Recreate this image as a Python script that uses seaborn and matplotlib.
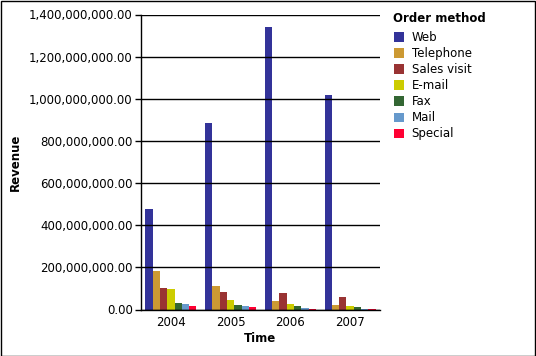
import matplotlib
matplotlib.use("Agg")
import matplotlib.pyplot as plt
import seaborn as sns
import pandas as pd
from matplotlib.ticker import FuncFormatter
from matplotlib.patches import Rectangle

years = ["2004", "2005", "2006", "2007"]
methods = ["Web", "Telephone", "Sales visit", "E-mail", "Fax", "Mail", "Special"]
web = [477e6, 885e6, 1341e6, 1018e6]
telephone = [182e6, 111e6, 39e6, 20e6]
sales_visit = [101e6, 82e6, 77e6, 58e6]
email = [96e6, 44e6, 25e6, 16e6]
fax = [30e6, 20e6, 16e6, 10e6]
mail = [25e6, 16e6, 6e6, 2e6]
special = [16e6, 11e6, 3e6, 2e6]
colors = ["#333399", "#CC9933", "#993333", "#CCCC00", "#336633", "#6699CC", "#FF0033"]
yticks = [0, 200e6, 400e6, 600e6, 800e6, 1000e6, 1200e6, 1400e6]

series = [web, telephone, sales_visit, email, fax, mail, special]
rows = []
for m, vals in zip(methods, series):
    for y, v in zip(years, vals):
        rows.append({"Time": y, "Order method": m, "Revenue": v})
df = pd.DataFrame(rows)

sns.set_style("white")
plt.rcParams["font.family"] = ["DejaVu Sans"]
plt.rcParams["text.color"] = "black"
plt.rcParams["axes.labelcolor"] = "black"
fs = 8.5

W, H = 536, 356
fig = plt.figure(figsize=(W / 100, H / 100), dpi=100)
ax = fig.add_axes([141 / W, 1 - 309.5 / H, (380 - 141) / W, (309.5 - 14.5) / H])

sns.barplot(data=df, x="Time", y="Revenue", hue="Order method", order=years,
            hue_order=methods, palette=colors, width=0.85, saturation=1,
            linewidth=0, ax=ax)

ax.set_ylim(0, 1.4e9)
ax.set_yticks(yticks)
ax.yaxis.set_major_formatter(FuncFormatter(lambda v, p: f"{v:,.2f}"))
ax.grid(axis="y", color="black", linewidth=1)
ax.set_axisbelow(False)
for s in ["top", "right"]:
    ax.spines[s].set_visible(False)
ax.spines["left"].set_color("black")
ax.spines["bottom"].set_color("black")
ax.spines["left"].set_linewidth(1)
ax.spines["bottom"].set_linewidth(1)
ax.tick_params(axis="y", which="major", left=True, length=4, width=1, color="black",
               labelsize=fs, pad=2, labelcolor="black")
ax.tick_params(axis="x", bottom=False, labelsize=fs, pad=1, labelcolor="black")
ax.set_xlabel("Time", fontsize=fs, fontweight="bold", labelpad=2, color="black")
ax.set_ylabel("Revenue", fontsize=fs, fontweight="bold", labelpad=5, color="black")

handles, labels = ax.get_legend_handles_labels()
ax.get_legend().remove()
fig.text(393 / W, 1 - 19 / H, "Order method", fontsize=fs, fontweight="bold",
         ha="left", va="center")
leg = fig.legend(handles, labels, loc="upper left",
                 bbox_to_anchor=(394 / W, 1 - 31 / H), frameon=False,
                 fontsize=fs,
                 handlelength=0.85, handleheight=0.85, handletextpad=0.65,
                 labelspacing=0.26, borderaxespad=0, borderpad=0)

fig.patches.append(Rectangle((0.5 / W, 0.5 / H), 1 - 1.5 / W, 1 - 1.5 / H,
                             transform=fig.transFigure, fill=False,
                             edgecolor="black", linewidth=1))

fig.savefig("out.png", dpi=100)
